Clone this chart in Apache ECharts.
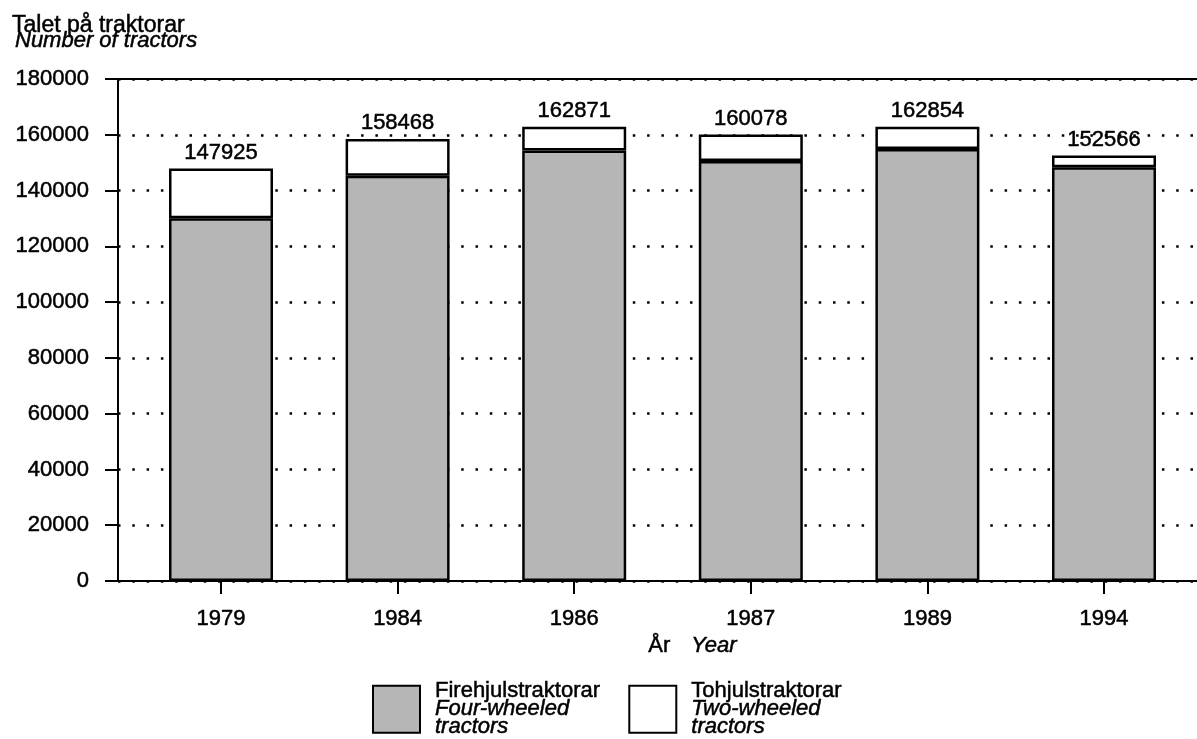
<!DOCTYPE html>
<html>
<head>
<meta charset="utf-8">
<script src="https://cdn.jsdelivr.net/npm/echarts@6/dist/echarts.min.js"></script>
<style>
  html, body { margin: 0; padding: 0; background: #fff; }
  #chart { width: 1197px; height: 739px; }
</style>
</head>
<body>
<div id="chart"></div>
<script>
const years = ['1979', '1984', '1986', '1987', '1989', '1994'];
const fourWheeled = [130100, 145300, 154400, 150600, 154900, 148400];
const twoWheeled = [17825, 13168, 8471, 9478, 7954, 4166];
const yTicks = { min: 0, max: 180000, interval: 20000 };

const FONT = '"Liberation Sans", Arial, Helvetica, sans-serif';
const FS = 22;
const grey = '#b6b6b6';
// the scan makes the lettering a bit heavier than a plain regular weight
const ink = { color: '#000', textBorderColor: '#000', textBorderWidth: 0.5 };

const chart = echarts.init(document.getElementById('chart'));

const legendText = {
  'Firehjulstraktorar': ['Four-wheeled', 'tractors'],
  'Tohjulstraktorar': ['Two-wheeled', 'tractors']
};

const option = {
  backgroundColor: '#fff',
  animation: false,
  textStyle: { fontFamily: FONT, color: '#000' },
  title: [
    {
      left: 12, top: 14, padding: 0,
      text: 'Talet på traktorar',
      textStyle: { fontFamily: FONT, fontSize: 23, fontWeight: 'normal', lineHeight: 23, ...ink }
    },
    {
      left: 15, top: 30, padding: 0,
      text: 'Number of tractors',
      textStyle: { fontFamily: FONT, fontSize: FS, fontWeight: 'normal', fontStyle: 'italic', lineHeight: FS, ...ink }
    }
  ],
  graphic: [{
    type: 'text',
    left: 648,
    top: 635,
    style: {
      text: '{a|År}{b|Year}',
      rich: {
        a: { fontFamily: FONT, fontSize: FS, fill: '#000', stroke: '#000', lineWidth: 0.5 },
        b: { fontFamily: FONT, fontSize: FS, fill: '#000', stroke: '#000', lineWidth: 0.5, fontStyle: 'italic', padding: [0, 0, 0, 21] }
      }
    }
  }],
  legend: {
    left: 372,
    top: 680,
    padding: 0,
    itemWidth: 47,
    itemHeight: 47,
    itemGap: 28,
    icon: 'rect',
    data: [
      { name: 'Firehjulstraktorar', itemStyle: { color: grey, borderColor: '#000', borderWidth: 2 } },
      { name: 'Tohjulstraktorar', itemStyle: { color: '#fff', borderColor: '#000', borderWidth: 2 } }
    ],
    formatter: name => '{a|' + name + '}\n{b|' + legendText[name][0] + '}\n{b|' + legendText[name][1] + '}',
    textStyle: {
      rich: {
        a: { fontFamily: FONT, fontSize: FS, lineHeight: 18, padding: [0, 0, 0, 10], ...ink },
        b: { fontFamily: FONT, fontSize: FS, fontStyle: 'italic', lineHeight: 18, padding: [0, 0, 0, 10], ...ink }
      }
    }
  },
  grid: [
    { left: 118, top: 79, right: -30, bottom: 158 },
    { left: 132.7, top: 79, width: 1059.6, bottom: 158 }
  ],
  xAxis: [
    {
      gridIndex: 0, type: 'value', min: 0, max: 1, position: 'bottom',
      axisLine: { show: true, lineStyle: { color: '#000', width: 2 } },
      axisTick: { show: false }, axisLabel: { show: false }, splitLine: { show: false }
    },
    {
      gridIndex: 0, type: 'value', min: 0, max: 1, position: 'top',
      axisLine: { show: true, lineStyle: { color: '#000', width: 2 } },
      axisTick: { show: false }, axisLabel: { show: false }, splitLine: { show: false }
    },
    {
      gridIndex: 1, type: 'category', data: years,
      axisLine: { show: false },
      axisTick: { show: true, alignWithLabel: true, length: 13, lineStyle: { color: '#000', width: 2 } },
      axisLabel: { fontFamily: FONT, fontSize: FS, margin: 27, ...ink },
      splitLine: { show: false }
    }
  ],
  yAxis: [
    {
      gridIndex: 0, type: 'value',
      min: yTicks.min, max: yTicks.max, interval: yTicks.interval,
      axisLine: { show: true, lineStyle: { color: '#000', width: 2 } },
      axisTick: { show: true, length: 13, lineStyle: { color: '#000', width: 2 } },
      axisLabel: { fontFamily: FONT, fontSize: FS, margin: 29, formatter: v => String(v), ...ink },
      splitLine: { show: true, lineStyle: { color: '#000', width: 2.5, type: [2.5, 11.8] } }
    },
    {
      gridIndex: 1, type: 'value',
      min: yTicks.min, max: yTicks.max, interval: yTicks.interval,
      show: false, splitLine: { show: false }
    }
  ],
  series: [
    {
      name: 'Firehjulstraktorar',
      type: 'bar',
      stack: 'total',
      xAxisIndex: 2,
      yAxisIndex: 1,
      barWidth: 104,
      data: fourWheeled,
      itemStyle: { color: grey, borderColor: '#000', borderWidth: 2.5 }
    },
    {
      name: 'Tohjulstraktorar',
      type: 'bar',
      stack: 'total',
      xAxisIndex: 2,
      yAxisIndex: 1,
      barWidth: 104,
      data: twoWheeled,
      itemStyle: { color: '#fff', borderColor: '#000', borderWidth: 2.5 },
      label: {
        show: true,
        position: 'top',
        distance: 5,
        fontFamily: FONT,
        fontSize: FS,
        ...ink,
        formatter: p => String(fourWheeled[p.dataIndex] + twoWheeled[p.dataIndex])
      }
    }
  ]
};

chart.setOption(option);
</script>
</body>
</html>
